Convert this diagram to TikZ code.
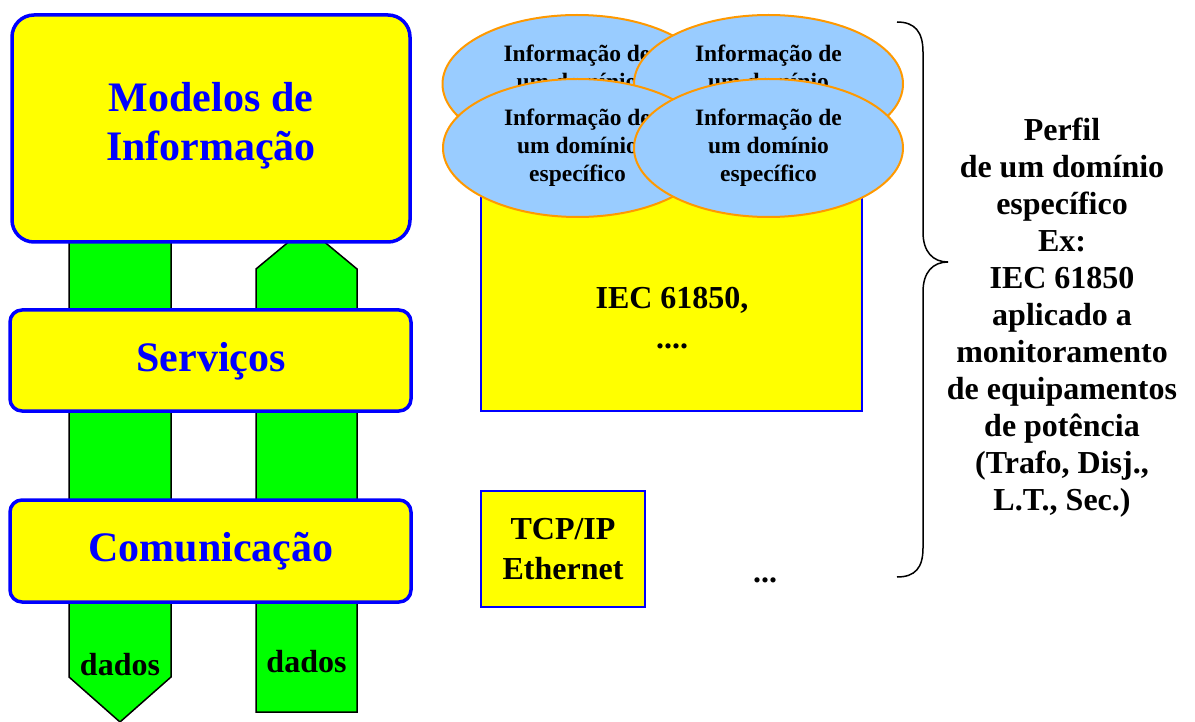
\documentclass[tikz,border=0pt]{standalone}
\usepackage{fontspec}
\setmainfont{Liberation Serif}
\usepackage{xcolor}
\usepackage{tikz}
\usetikzlibrary{shapes.geometric}
\definecolor{layeryellow}{RGB}{255,255,0}
\definecolor{layerblue}{RGB}{0,0,255}
\definecolor{datagreen}{RGB}{0,255,0}
\definecolor{infoblue}{RGB}{153,204,255}
\definecolor{infoorange}{RGB}{255,153,0}

\tikzset{
  layerbox/.style={draw=layerblue, line width=3.5pt, fill=layeryellow},
  stdbox/.style={draw=layerblue, line width=2pt, fill=layeryellow},
  datapipe/.style={draw=black, line width=1.5pt, fill=datagreen},
  infoell/.style={ellipse, draw=infoorange, line width=2pt, fill=infoblue,
    minimum width=269pt, minimum height=138pt, inner sep=0pt, align=center,
    font=\fontsize{23.5}{28}\selectfont\bfseries},
  layertext/.style={text=layerblue, align=center, font=\fontsize{42}{49}\selectfont\bfseries},
  plaintext/.style={align=center, font=\fontsize{32}{37}\selectfont\bfseries}
}

\begin{document}
\begin{tikzpicture}[x=1pt,y=-1pt]
\useasboundingbox (0,0) rectangle (1195,722);
% data paths (behind the layers)
\draw[datapipe] (69,230) -- (171,230) -- (171,677) -- (120,722) -- (69,677) -- cycle;
\draw[datapipe] (256,269) -- (306.5,227) -- (357,269) -- (357,712) -- (256,712) -- cycle;
\node[plaintext] (dadosdown) at (120,665) {dados};
\node[plaintext] (dadosup) at (306.5,662) {dados};

% layers
\draw[layerbox, rounded corners=22pt] (12,15) rectangle (410,242);
\node[layertext] (modelos) at (211,126) {Modelos de\\Informação};
\draw[layerbox, rounded corners=12pt] (10,310) rectangle (411,411);
\node[layertext] (servicos) at (211,361) {Serviços};
\draw[layerbox, rounded corners=12pt] (10,500) rectangle (411,602);
\node[layertext] (comunicacao) at (211,551) {Comunicação};

% domain profile
\draw[stdbox] (481,150) rectangle (862,411);
\node[plaintext, font=\fontsize{32}{40}\selectfont\bfseries] (iec) at (672,318) {IEC 61850,\\....};
\node[infoell] (infoA) at (577,84) {Informação de\\um domínio\\específico};
\node[infoell] (infoB) at (768.5,84) {Informação de\\um domínio\\específico};
\node[infoell] (infoC) at (577.5,148) {Informação de\\um domínio\\específico};
\node[infoell] (infoD) at (768.5,148) {Informação de\\um domínio\\específico};

\draw[stdbox] (481,491) rectangle (645,607);
\node[plaintext, font=\fontsize{32}{40}\selectfont\bfseries] (tcpip) at (563,549) {TCP/IP\\Ethernet};
\node[plaintext] (more) at (765,580) {...};

% brace and profile text
\draw[line width=1.5pt] (897,22) .. controls (915,22) and (923,32) .. (923,52) -- (923,232)
  .. controls (923,252) and (933,262) .. (948,262)
  .. controls (933,262) and (923,272) .. (923,292) -- (923,548)
  .. controls (923,568) and (915,577) .. (897,577);
\node[plaintext] (perfil) at (1062,318) {Perfil\\de um domínio\\específico\\Ex:\\IEC 61850\\aplicado a\\monitoramento\\de equipamentos\\de potência\\(Trafo, Disj.,\\L.T., Sec.)};
\end{tikzpicture}
\end{document}
